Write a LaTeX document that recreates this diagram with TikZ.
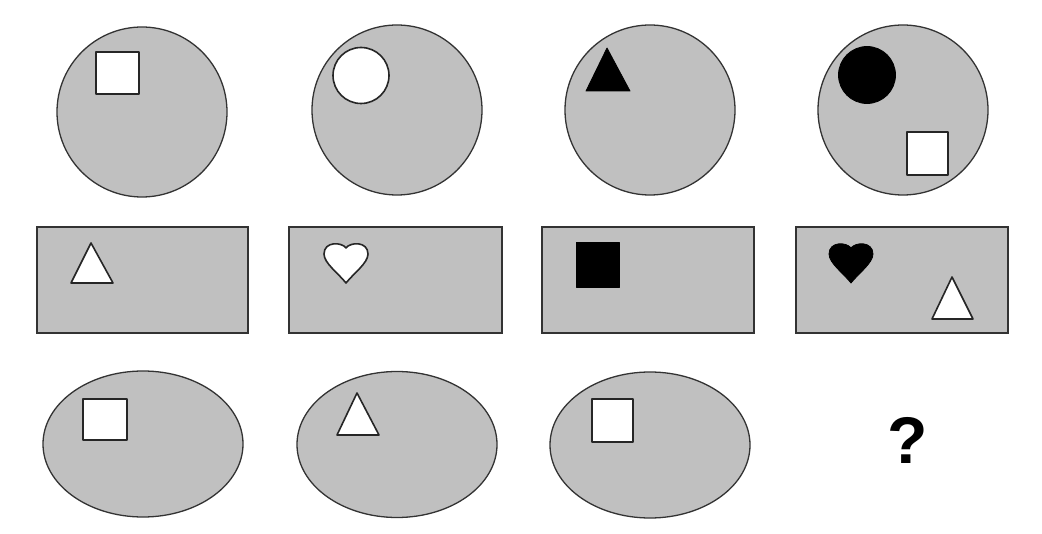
\documentclass[tikz,border=0pt]{standalone}
\usepackage{fontspec}
\setmainfont{Liberation Sans}
\begin{document}
\begin{tikzpicture}[x=1pt,y=-1pt,
  outer/.style={draw=black!80,line width=1.3pt,fill=shapegray},
  inner/.style={draw=black!85,line width=1.6pt,fill=white,line join=round},
  solid/.style={fill=black,draw=black,line width=0.8pt,line join=round}]
\definecolor{shapegray}{HTML}{C0C0C0}
\useasboundingbox[fill=white] (0,0) rectangle (1042,534);
% row 1: circles
\draw[outer] (142,112) circle[radius=85];
\draw[inner] (96,52) rectangle (139,94);
\draw[outer] (397,110) circle[radius=85];
\draw[inner] (361,75.5) circle[radius=28];
\draw[outer] (650,110) circle[radius=85];
\draw[solid] (607,48) -- (630,91) -- (586,91) -- cycle;
\draw[outer] (903,110) circle[radius=85];
\draw[solid] (867,75) circle[radius=28.5];
\draw[inner] (907,132) rectangle (948,175);
% row 2: rectangles
\draw[outer] (37,227) rectangle (248,333);
\draw[inner] (91,243) -- (113,283) -- (71,283) -- cycle;
\draw[outer] (289,227) rectangle (502,333);
\draw[inner,shift={(346,243)}] (0,5) .. controls (-4,-1) and (-22,-2) .. (-22,11)
  .. controls (-22,20) and (-8,30) .. (0,40)
  .. controls (8,30) and (22,20) .. (22,11)
  .. controls (22,-2) and (4,-1) .. (0,5) -- cycle;
\draw[outer] (542,227) rectangle (754,333);
\draw[solid] (576,242) rectangle (619,287);
\draw[outer] (796,227) rectangle (1008,333);
\draw[solid,shift={(851,243)}] (0,5) .. controls (-4,-1) and (-22,-2) .. (-22,11)
  .. controls (-22,20) and (-8,30) .. (0,40)
  .. controls (8,30) and (22,20) .. (22,11)
  .. controls (22,-2) and (4,-1) .. (0,5) -- cycle;
\draw[inner] (952,277) -- (973,319) -- (932,319) -- cycle;
% row 3: ellipses
\draw[outer] (143,444) ellipse[x radius=100,y radius=73];
\draw[inner] (83,399) rectangle (127,440);
\draw[outer] (397,444.5) ellipse[x radius=100,y radius=73];
\draw[inner] (357,393) -- (379,435) -- (337,435) -- cycle;
\draw[outer] (650,445) ellipse[x radius=100,y radius=73];
\draw[inner] (592,399) rectangle (633,442);
\node[font=\bfseries\fontsize{66}{70}\selectfont,inner sep=0] (q) at (908,440) {?};
\end{tikzpicture}
\end{document}
